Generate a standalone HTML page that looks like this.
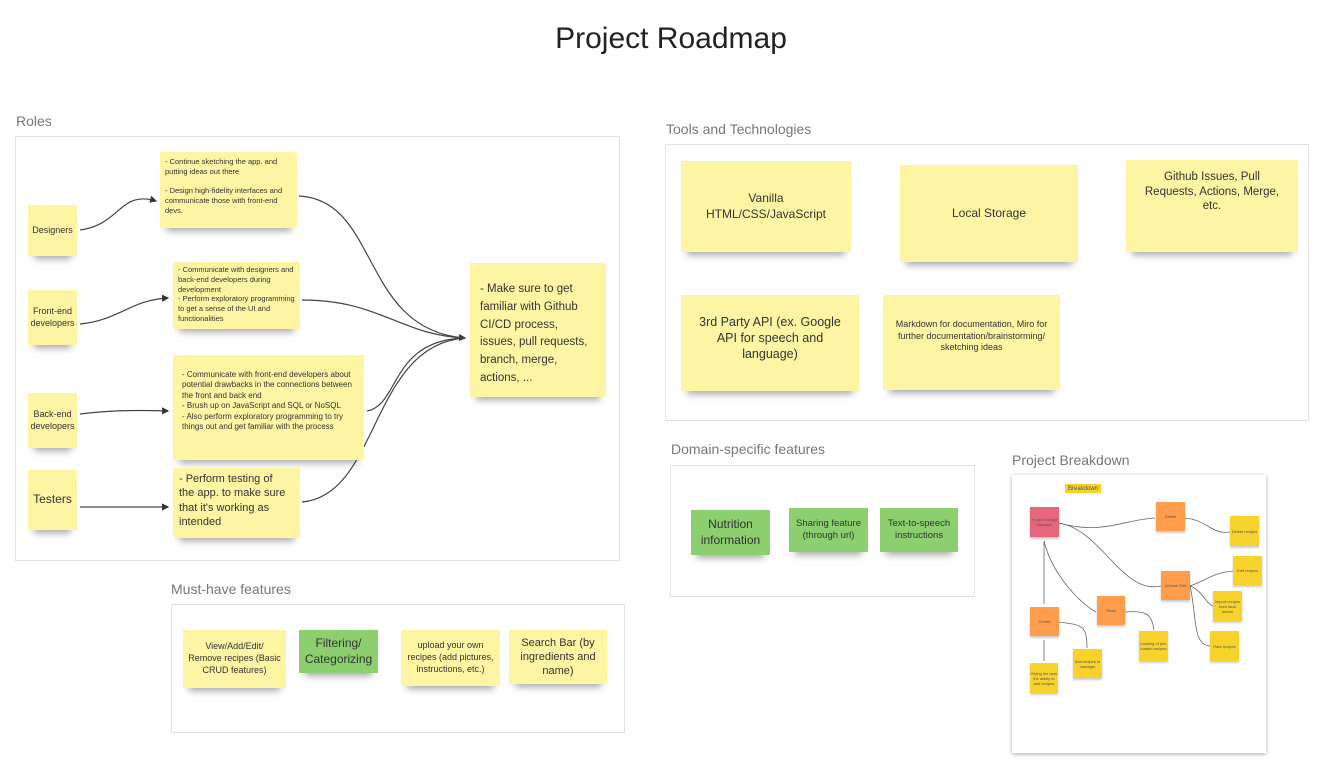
<!DOCTYPE html>
<html><head><meta charset="utf-8"><style>
body{margin:0;width:1324px;height:765px;background:#fff;position:relative;overflow:hidden;font-family:"Liberation Sans","DejaVu Sans",sans-serif;color:#333}
.lbl{position:absolute;font-size:14px;color:#777}
.frame{position:absolute;border:1px solid #e2e2e2;background:#fff}
.n{position:absolute;background:#fdf5a3;box-shadow:0 9px 7px -6px rgba(0,0,0,.35);display:flex;align-items:center;justify-content:center;text-align:center;box-sizing:border-box;padding:3px;line-height:1.3;color:#333}
.g{background:#8ccf6e}
.tl{text-align:left;justify-content:flex-start;align-items:flex-start}
.m{position:absolute;display:flex;align-items:center;justify-content:center;text-align:center;font-size:4px;color:#555;box-shadow:0 2px 2px rgba(0,0,0,.2)}
.o{background:#fe9d4c}.y{background:#f6d22b}
</style></head><body>
<div style="position:absolute;left:0;width:1342px;top:22px;text-align:center;font-size:30px;color:#222">Project Roadmap</div>

<div class="lbl" style="left:16px;top:113px">Roles</div>
<div class="frame" style="left:15px;top:136px;width:603px;height:423px"></div>
<svg style="position:absolute;left:0;top:0" width="1324" height="765">
<defs><marker id="a" markerWidth="6" markerHeight="6" refX="5" refY="3" orient="auto"><path d="M0,0L6,3L0,6z" fill="#333"/></marker></defs>
<g fill="none" stroke="#444" stroke-width="1.2">
<path d="M80,230 C120,225 120,190 156,201" marker-end="url(#a)"/>
<path d="M80,324 C120,320 130,300 168,298" marker-end="url(#a)"/>
<path d="M80,414 C110,410 140,410 168,411" marker-end="url(#a)"/>
<path d="M80,507 L168,507" marker-end="url(#a)"/>
<path d="M299,196 C380,200 360,330 465,338" marker-end="url(#a)"/>
<path d="M302,300 C380,300 400,335 465,338"/>
<path d="M367,411 C400,405 390,340 465,338"/>
<path d="M302,502 C380,495 370,345 465,338"/>
</g>
</svg>
<div class="n" style="left:28px;top:205px;width:49px;height:51px;font-size:9px">Designers</div>
<div class="n" style="left:28px;top:290px;width:49px;height:55px;font-size:9px">Front-end developers</div>
<div class="n" style="left:28px;top:393px;width:49px;height:55px;font-size:9px">Back-end developers</div>
<div class="n" style="left:28px;top:470px;width:49px;height:60px;font-size:12px">Testers</div>
<div class="n tl" style="left:160px;top:152px;width:137px;height:76px;font-size:7.5px;padding:5px">- Continue sketching the app. and putting ideas out there<br><br>- Design high-fidelity interfaces and communicate those with front-end devs.</div>
<div class="n tl" style="left:173px;top:262px;width:127px;height:67px;font-size:7.5px;padding:3px 5px">- Communicate with designers and back-end developers during development<br>- Perform exploratory programming to get a sense of the UI and functionalities</div>
<div class="n tl" style="left:173px;top:355px;width:191px;height:105px;font-size:8px;padding:15px 9px">- Communicate with front-end developers about potential drawbacks in the connections between the front and back end<br>- Brush up on JavaScript and SQL or NoSQL<br>- Also perform exploratory programming to try things out and get familiar with the process</div>
<div class="n tl" style="left:173px;top:468px;width:127px;height:70px;font-size:11px;padding:4px 14px 4px 6px">- Perform testing of the app. to make sure that it's working as intended</div>
<div class="n tl" style="left:470px;top:263px;width:136px;height:134px;font-size:11.5px;padding:18px 10px;line-height:1.55">- Make sure to get familiar with Github CI/CD process, issues, pull requests, branch, merge, actions, ...</div>

<div class="lbl" style="left:666px;top:121px">Tools and Technologies</div>
<div class="frame" style="left:665px;top:144px;width:642px;height:275px"></div>
<div class="n" style="left:681px;top:161px;width:170px;height:91px;font-size:12px;padding:8px 20px">Vanilla HTML/CSS/JavaScript</div>
<div class="n" style="left:900px;top:165px;width:178px;height:97px;font-size:12px">Local Storage</div>
<div class="n" style="left:1126px;top:160px;width:172px;height:92px;font-size:11.5px;padding:0 12px 28px">Github Issues, Pull Requests, Actions, Merge, etc.</div>
<div class="n" style="left:681px;top:295px;width:178px;height:96px;font-size:12.5px;padding:0 10px 10px">3rd Party API (ex. Google API for speech and language)</div>
<div class="n" style="left:883px;top:295px;width:177px;height:95px;font-size:9px;padding:0 12px 12px">Markdown for documentation, Miro for further documentation/brainstorming/ sketching ideas</div>

<div class="lbl" style="left:671px;top:441px">Domain-specific features</div>
<div class="frame" style="left:670px;top:465px;width:303px;height:130px"></div>
<div class="n g" style="left:691px;top:510px;width:79px;height:45px;font-size:12px">Nutrition information</div>
<div class="n g" style="left:789px;top:508px;width:79px;height:44px;font-size:9.5px">Sharing feature (through url)</div>
<div class="n g" style="left:880px;top:508px;width:78px;height:44px;font-size:9.5px">Text-to-speech instructions</div>

<div class="lbl" style="left:171px;top:581px">Must-have features</div>
<div class="frame" style="left:171px;top:604px;width:452px;height:127px"></div>
<div class="n" style="left:183px;top:630px;width:103px;height:58px;font-size:9px;padding:3px 5px">View/Add/Edit/ Remove recipes (Basic CRUD features)</div>
<div class="n g" style="left:299px;top:630px;width:79px;height:43px;font-size:12px">Filtering/ Categorizing</div>
<div class="n" style="left:401px;top:630px;width:99px;height:56px;font-size:9px">upload your own recipes (add pictures, instructions, etc.)</div>
<div class="n" style="left:509px;top:630px;width:98px;height:54px;font-size:11px">Search Bar (by ingredients and name)</div>

<div class="lbl" style="left:1012px;top:452px">Project Breakdown</div>
<div style="position:absolute;left:1012px;top:475px;width:254px;height:278px;background:#fff;box-shadow:0 1px 4px rgba(0,0,0,.35)">
<svg style="position:absolute;left:0;top:0" width="254" height="278"><g fill="none" stroke="#666" stroke-width="0.8">
<path d="M47,48 C90,60 110,45 143,43"/><path d="M173,43 C195,45 200,60 218,57"/>
<path d="M47,48 C90,55 110,120 149,111"/><path d="M178,111 C195,105 200,98 221,96"/>
<path d="M178,111 C190,115 195,130 201,131"/><path d="M178,111 C185,140 180,170 198,171"/>
<path d="M32,66 L32,129"/><path d="M32,66 C40,100 70,130 84,137"/>
<path d="M113,137 C135,135 140,140 142,155"/><path d="M47,147 C70,150 75,150 75,173"/><path d="M32,165 L32,186"/>
</g></svg>
<div class="m y" style="left:53px;top:9px;width:36px;height:9px;font-size:6px;box-shadow:none">Breakdown</div>
<div class="m" style="left:18px;top:32px;width:29px;height:30px;background:#e8667b">Project Recipe Manager</div>
<div class="m o" style="left:144px;top:27px;width:29px;height:29px">Delete</div>
<div class="m y" style="left:218px;top:41px;width:29px;height:30px">Delete recipes</div>
<div class="m o" style="left:149px;top:96px;width:29px;height:29px">Upload/ Edit</div>
<div class="m y" style="left:221px;top:81px;width:29px;height:29px">Edit recipes</div>
<div class="m y" style="left:201px;top:116px;width:29px;height:30px">Import recipes from local device</div>
<div class="m y" style="left:198px;top:156px;width:29px;height:30px">Rate recipes</div>
<div class="m o" style="left:85px;top:121px;width:28px;height:29px">Read</div>
<div class="m y" style="left:127px;top:156px;width:29px;height:30px">Loading of pre-loaded recipes</div>
<div class="m o" style="left:18px;top:132px;width:29px;height:29px">Create</div>
<div class="m y" style="left:61px;top:174px;width:29px;height:29px">Add recipes to manager</div>
<div class="m y" style="left:18px;top:188px;width:28px;height:30px">Giving the user the ability to add recipes</div>
</div>
</body></html>
